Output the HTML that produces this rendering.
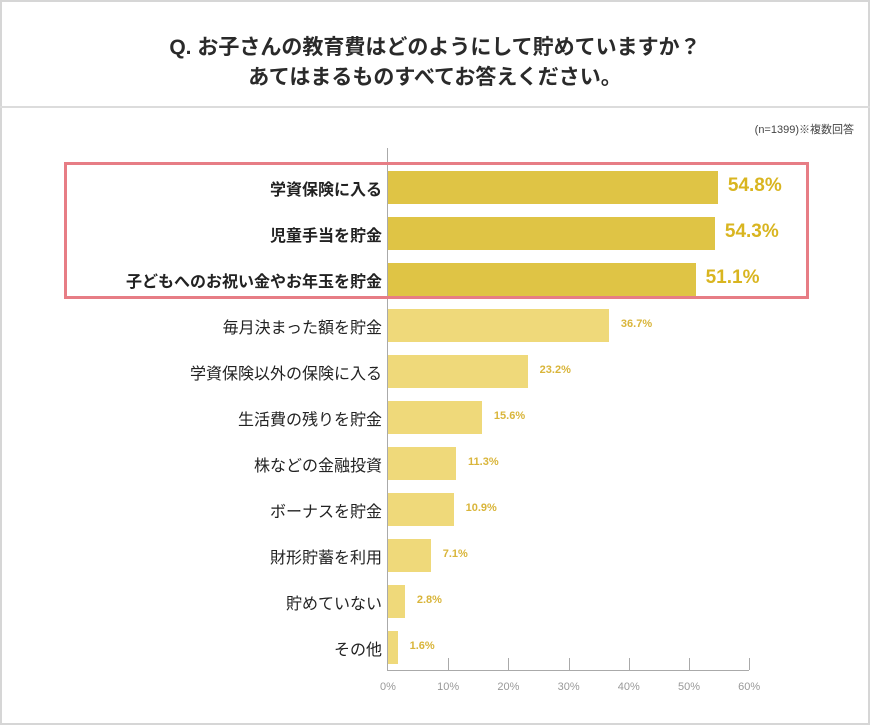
<!DOCTYPE html>
<html><head><meta charset="utf-8"><style>
*{margin:0;padding:0;box-sizing:border-box}
body{width:870px;height:725px;background:#fff;font-family:"Liberation Sans","Noto Sans CJK JP",sans-serif;position:relative;overflow:hidden}
.frame{position:absolute;left:0;top:0;width:870px;height:725px;border:2px solid #d6d6d6}
.div{position:absolute;left:0;top:106px;width:870px;height:2px;background:#dcdcdc}
.t{position:absolute;left:0;width:870px;text-align:center;font-size:21px;font-weight:bold;color:#2a2a2a}
.n{position:absolute;right:16px;top:121px;font-size:11px;color:#444}
.lab{position:absolute;right:488px;font-size:16px;color:#222;white-space:nowrap;text-align:right}
.bar{position:absolute;left:388px;height:33px}
.v{position:absolute;font-weight:bold}
.axis{position:absolute;left:387px;top:148px;width:1px;height:522px;background:#aaa}
.base{position:absolute;left:387px;top:670px;width:362px;height:1px;background:#aaa}
.tk{position:absolute;top:658px;width:1px;height:12px;background:#aaa}
.tl{position:absolute;top:681px;font-size:11px;color:#999;width:40px;margin-left:-20px;text-align:center}
.box{position:absolute;left:64px;top:162px;width:745px;height:137px;border:3px solid #e77d85}
</style></head><body>
<div class="frame"></div>
<div class="t" style="top:31px">Q. お子さんの教育費はどのようにして貯めていますか？</div>
<div class="t" style="top:61px">あてはまるものすべてお答えください。</div>
<div class="div"></div>
<div class="n">(n=1399)※複数回答</div>
<div class="axis"></div>
<div id="c"></div>
<div class="base"></div>
<div class="box"></div>
<script>
var d=[["学資保険に入る",54.8],["児童手当を貯金",54.3],["子どもへのお祝い金やお年玉を貯金",51.1],["毎月決まった額を貯金",36.7],["学資保険以外の保険に入る",23.2],["生活費の残りを貯金",15.6],["株などの金融投資",11.3],["ボーナスを貯金",10.9],["財形貯蓄を利用",7.1],["貯めていない",2.8],["その他",1.6]];
var h="";
d.forEach(function(r,i){var y=171+i*46,w=r[1]*6.02,top=i<3;
h+='<div class="bar" style="top:'+y+'px;width:'+w+'px;background:'+(top?'#dfc445':'#efd97a')+'"></div>';
h+='<div class="lab" style="top:'+(y+5)+'px;'+(top?'font-weight:bold':'')+'">'+r[0]+'</div>';
h+='<div class="v" style="left:'+(388+w+(top?10:12))+'px;top:'+(y+(top?4:9))+'px;font-size:'+(top?'19px':'11px')+';color:'+(top?'#d9b520':'#d9b53a')+'">'+r[1].toFixed(1)+'%</div>';});
for(var k=0;k<=6;k++){var x=388+k*60.2;if(k>0)h+='<div class="tk" style="left:'+x+'px"></div>';h+='<div class="tl" style="left:'+x+'px">'+k*10+'%</div>';}
document.getElementById("c").innerHTML=h;
</script>
</body></html>
